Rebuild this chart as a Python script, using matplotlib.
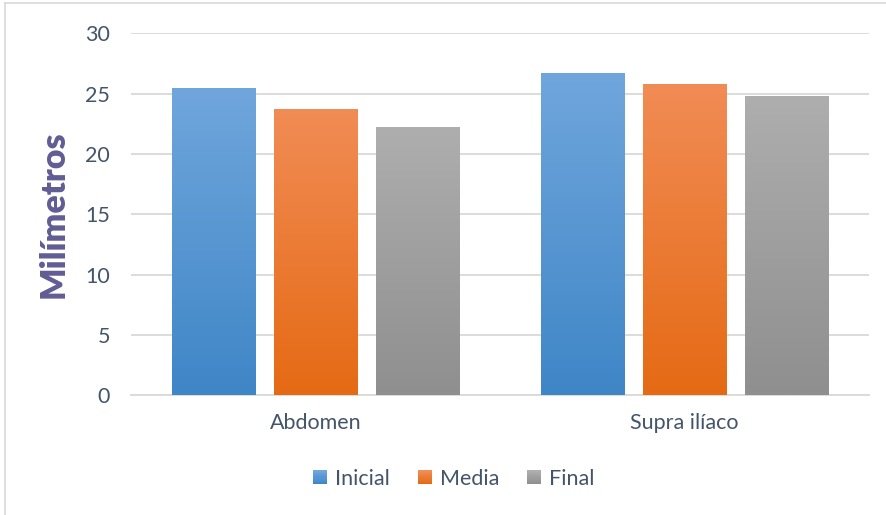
import numpy as np
import matplotlib.pyplot as plt
from matplotlib.colors import LinearSegmentedColormap
from matplotlib.patches import Patch, Rectangle
from matplotlib.lines import Line2D
from matplotlib.legend_handler import HandlerBase

plt.rcParams['font.family'] = ['Lato', 'DejaVu Sans']

categories = ['Abdomen', 'Supra ilíaco']
series = ['Inicial', 'Media', 'Final']
values = {
    'Inicial': [25.5, 26.7],
    'Media': [23.7, 25.8],
    'Final': [22.2, 24.8],
}
yticks = [0, 5, 10, 15, 20, 25, 30]

# (top, bottom) gradient colours per series
grad = {
    'Inicial': ('#70A6DC', '#3F86C7'),
    'Media': ('#F18C55', '#E56A14'),
    'Final': ('#AEAEAE', '#8F8F8F'),
}
text_col = '#44546A'
grid_col = '#D9D9D9'


class GradientSquare(HandlerBase):
    """Legend key filled with a vertical gradient made of thin stripes."""
    def create_artists(self, legend, orig_handle, xdescent, ydescent,
                       width, height, fontsize, trans):
        cmap = orig_handle.cmap
        n = 12
        arts = []
        for i in range(n):
            r = Rectangle((-xdescent, -ydescent + height * i / n), width, height / n + 0.3,
                          facecolor=cmap(i / (n - 1)), edgecolor='none', transform=trans)
            arts.append(r)
        return arts


fig = plt.figure(figsize=(8.87, 5.15), dpi=100)
ax = fig.add_axes([0.1477, 0.2324, 0.832, 0.7029])

width = 0.225
offsets = [-0.277, 0.0, 0.277]
x = np.arange(len(categories))

handles = []
for s, off in zip(series, offsets):
    top, bottom = grad[s]
    cmap = LinearSegmentedColormap.from_list(s, [bottom, top])
    bars = ax.bar(x + off, values[s], width, color='none', edgecolor='none', zorder=3)
    for b in bars:
        x0, w, h = b.get_x(), b.get_width(), b.get_height()
        g = np.linspace(0, 1, 256).reshape(-1, 1)
        im = ax.imshow(g, cmap=cmap, origin='lower', aspect='auto',
                       extent=[x0, x0 + w, 0, h], zorder=3)
        im.set_clip_path(b)
    h = Patch(facecolor=bottom)
    h.cmap = cmap
    handles.append(h)

ax.set_xlim(-0.5, 1.5)
ax.set_ylim(0, 30)
ax.set_yticks(yticks)
ax.set_xticks(x)
ax.set_xticklabels(categories)

ax.grid(axis='y', color=grid_col, linewidth=1.3, zorder=0)
for sp in ['top', 'right', 'left']:
    ax.spines[sp].set_visible(False)
ax.spines['bottom'].set_color(grid_col)
ax.spines['bottom'].set_linewidth(1.3)
ax.tick_params(axis='both', length=0, labelsize=15.5, colors=text_col)
ax.tick_params(axis='y', pad=15)
ax.tick_params(axis='x', pad=13)

ax.set_ylabel('Milímetros', fontsize=24.5, fontweight='heavy', color='#615C93', labelpad=11)

leg = fig.legend(handles, series, loc='center', bbox_to_anchor=(0.512, 0.07), ncol=3,
                 frameon=False, fontsize=15.5, handlelength=0.62, handleheight=0.62,
                 handletextpad=0.4, columnspacing=1.3,
                 handler_map={Patch: GradientSquare()})
for t in leg.get_texts():
    t.set_color(text_col)

# chart frame
fig.add_artist(Line2D([0.006, 0.006], [0, 0.994], color=grid_col, lw=1.2))
fig.add_artist(Line2D([0.006, 1.0], [0.994, 0.994], color=grid_col, lw=1.2))

fig.savefig('out.png', dpi=100)
